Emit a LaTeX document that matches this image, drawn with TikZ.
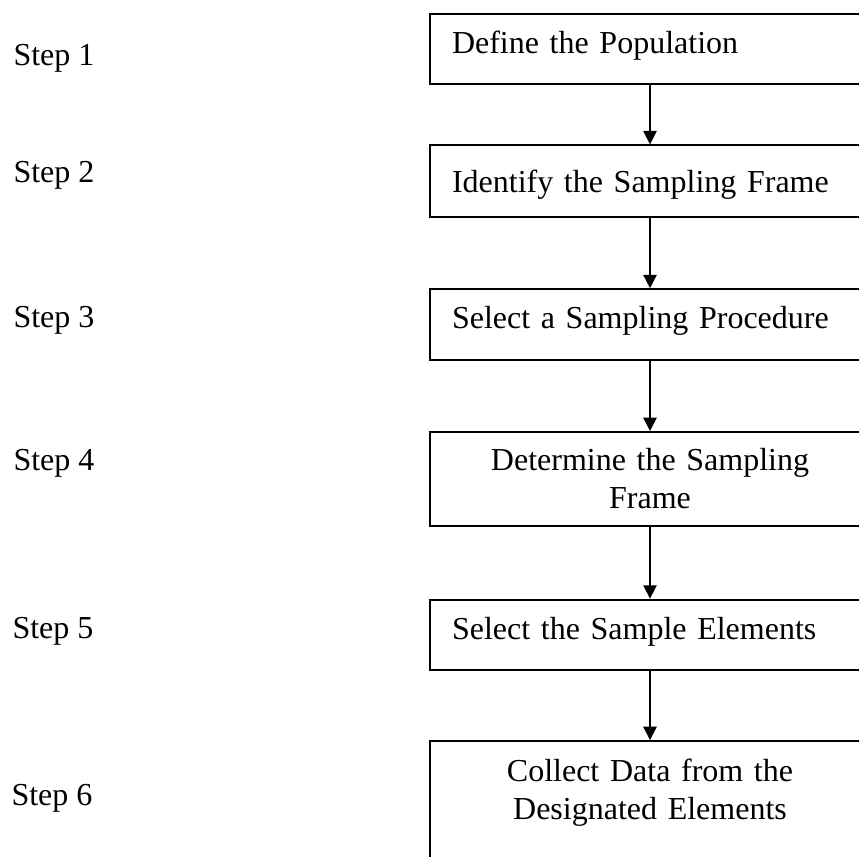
\documentclass[tikz,border=0pt]{standalone}
\usepackage{fontspec}
\setmainfont{Liberation Serif}
\usetikzlibrary{arrows.meta,positioning}

\begin{document}
\begin{tikzpicture}[
  x=0.375pt, y=-0.375pt,
  font=\fontsize{12pt}{14.3pt}\selectfont,
  stepbox/.style={draw, line width=0.75pt, minimum width=165pt, inner xsep=8.25pt, inner ysep=0pt,
    text width=148.5pt, align=left, text height=14.9pt, text depth=11.5pt},
  steplbl/.style={anchor=base west, inner sep=0pt},
  arr/.style={-{Triangle[length=5pt, width=5pt]}, line width=0.55pt}
]
\useasboundingbox (0,0) rectangle (859,856);
\clip (0,0) rectangle (859,856);
% boxes
\node[stepbox, anchor=north] (pop) at (650,13) {Define the Population};
\node[stepbox, below=22.1pt of pop, text height=17.8pt, text depth=9pt] (frame) {Identify the Sampling Frame};
\node[stepbox, below=26.4pt of frame] (proc) {Select a Sampling Procedure};
\node[stepbox, below=26.4pt of proc, align=center, text height=14.5pt, text depth=20.9pt] (size) {Determine the Sampling\\Frame};
\node[stepbox, below=26.7pt of size] (elem) {Select the Sample Elements};
\node[stepbox, below=25.9pt of elem, align=center, text height=15.2pt, text depth=56pt] (data) {Collect Data from the\\Designated Elements};
% step labels
\node[steplbl] (s1) at (13,66) {Step 1};
\node[steplbl] (s2) at (13,183) {Step 2};
\node[steplbl] (s3) at (13,327) {Step 3};
\node[steplbl] (s4) at (13,470) {Step 4};
\node[steplbl] (s5) at (12,638) {Step 5};
\node[steplbl] (s6) at (11,805) {Step 6};
% arrows
\foreach \a/\b in {pop/frame, frame/proc, proc/size, size/elem, elem/data}
  \draw[arr] (\a) -- (\b);
\end{tikzpicture}
\end{document}
